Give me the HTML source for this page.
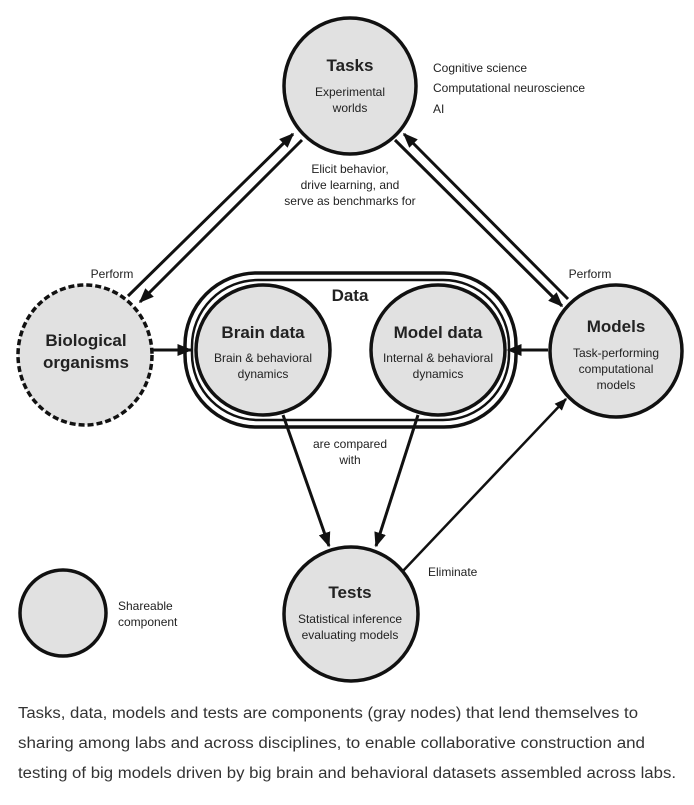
<!DOCTYPE html>
<html><head><meta charset="utf-8"><style>
html,body{margin:0;padding:0;background:#fff;}
svg{display:block;}
text{font-family:"Liberation Sans",Arial,sans-serif;fill:#222;}
.t{font-weight:bold;font-size:17px;text-anchor:middle;}
.s{font-size:12px;text-anchor:middle;}
.l{font-size:12px;}
.c{font-size:15.5px;fill:#333;}
</style></head><body>
<svg width="694" height="805" viewBox="0 0 694 805" xmlns="http://www.w3.org/2000/svg">
<defs>
<marker id="a" viewBox="0 0 10 10" refX="9" refY="5" markerWidth="5" markerHeight="5" orient="auto-start-reverse" markerUnits="strokeWidth">
<path d="M0,1 L10,5 L0,9 Z" fill="#111"/></marker>
</defs>
<g stroke="#111" fill="#e1e1e1" stroke-width="3.5">
<rect x="185" y="273" width="331" height="154" rx="72" ry="72" fill="#fff"/>
<rect x="192" y="280" width="317" height="140" rx="66" ry="66" fill="#fff" stroke-width="2.5"/>
<ellipse cx="350" cy="86" rx="66" ry="68"/>
<ellipse cx="85" cy="355" rx="67" ry="70" stroke-dasharray="6,3"/>
<ellipse cx="263" cy="350" rx="67" ry="65"/>
<ellipse cx="438" cy="350" rx="67" ry="65"/>
<ellipse cx="616" cy="351" rx="66" ry="66"/>
<ellipse cx="351" cy="614" rx="67" ry="67"/>
<ellipse cx="63" cy="613" rx="43" ry="43"/>
</g>
<g stroke="#111" stroke-width="3" fill="none">
<line x1="128" y1="296" x2="293" y2="134" marker-end="url(#a)"/>
<line x1="302" y1="140" x2="140" y2="302" marker-end="url(#a)"/>
<line x1="568" y1="299" x2="404" y2="134" marker-end="url(#a)"/>
<line x1="395" y1="140" x2="562" y2="306" marker-end="url(#a)"/>
<line x1="152" y1="350" x2="191" y2="350" marker-end="url(#a)"/>
<line x1="548" y1="350" x2="508" y2="350" marker-end="url(#a)"/>
<line x1="283" y1="415" x2="329" y2="546" marker-end="url(#a)"/>
<line x1="418" y1="415" x2="376" y2="546" marker-end="url(#a)"/>
<line x1="402" y1="572" x2="566" y2="399" marker-end="url(#a)" stroke-width="2.5"/>
</g>
<text class="t" x="350" y="71">Tasks</text>
<text class="s" x="350" y="96">Experimental</text>
<text class="s" x="350" y="112">worlds</text>
<text class="l" x="433" y="72">Cognitive science</text>
<text class="l" x="433" y="92">Computational neuroscience</text>
<text class="l" x="433" y="113">AI</text>
<text class="s" x="350" y="173">Elicit behavior,</text>
<text class="s" x="350" y="189">drive learning, and</text>
<text class="s" x="350" y="205">serve as benchmarks for</text>
<text class="s" x="112" y="278">Perform</text>
<text class="s" x="590" y="278">Perform</text>
<text class="t" x="350" y="301">Data</text>
<text class="t" x="86" y="346">Biological</text>
<text class="t" x="86" y="368">organisms</text>
<text class="t" x="263" y="338">Brain data</text>
<text class="s" x="263" y="362">Brain &amp; behavioral</text>
<text class="s" x="263" y="378">dynamics</text>
<text class="t" x="438" y="338">Model data</text>
<text class="s" x="438" y="362">Internal &amp; behavioral</text>
<text class="s" x="438" y="378">dynamics</text>
<text class="t" x="616" y="332">Models</text>
<text class="s" x="616" y="357">Task-performing</text>
<text class="s" x="616" y="373">computational</text>
<text class="s" x="616" y="389">models</text>
<text class="s" x="350" y="448">are compared</text>
<text class="s" x="350" y="464">with</text>
<text class="l" x="428" y="576">Eliminate</text>
<text class="t" x="350" y="598">Tests</text>
<text class="s" x="350" y="623">Statistical inference</text>
<text class="s" x="350" y="639">evaluating models</text>
<text class="l" x="118" y="610">Shareable</text>
<text class="l" x="118" y="626">component</text>
<text class="c" x="18" y="718" textLength="620" lengthAdjust="spacingAndGlyphs">Tasks, data, models and tests are components (gray nodes) that lend themselves to</text>
<text class="c" x="18" y="748" textLength="627" lengthAdjust="spacingAndGlyphs">sharing among labs and across disciplines, to enable collaborative construction and</text>
<text class="c" x="18" y="778" textLength="658" lengthAdjust="spacingAndGlyphs">testing of big models driven by big brain and behavioral datasets assembled across labs.</text>
</svg>
</body></html>
